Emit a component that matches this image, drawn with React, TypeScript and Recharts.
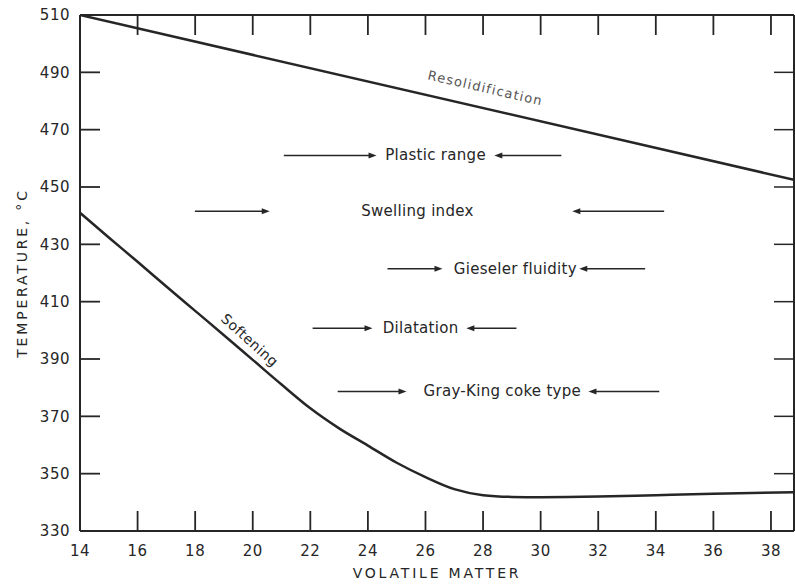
import React from "react";
import {
  LineChart,
  Line,
  XAxis,
  YAxis,
  ReferenceLine,
  ReferenceDot,
} from "recharts";

// volatile matter (%) vs temperature (°C)
const softeningX = [14, 15, 16, 17, 18, 19, 20, 21, 22, 23, 24, 25, 26, 27, 28, 29, 30, 32, 34, 36, 38.8];
const softeningY = [441, 432.4, 423.9, 415.3, 406.8, 398.3, 389.7, 381.1, 372.8, 365.8, 359.8, 353.8, 348.8, 344.6, 342.5, 341.9, 341.8, 342, 342.5, 343, 343.5];

const resolidX = [14, 38.8];
const resolidY = [510, 452.5];

const xDomain = [14, 38.8];
const yDomain = [330, 510];
const xTicks = [14, 16, 18, 20, 22, 24, 26, 28, 30, 32, 34, 36, 38];
const yTicks = [330, 350, 370, 390, 410, 430, 450, 470, 490, 510];

// property rows: label, label position, arrow from the left, arrow from the right
const rowNames = ["Plastic range", "Swelling index", "Gieseler fluidity", "Dilatation", "Gray-King coke type"];
const rowY = [461, 441.5, 421.5, 400.7, 378.7];
const rowTextX = [26.35, 25.72, 29.12, 25.83, 28.67];
const leftArrowFrom = [21.08, 17.99, 24.68, 22.08, 22.95];
const leftArrowTo = [24.3, 20.59, 26.59, 24.16, 25.34];
const rightArrowFrom = [30.72, 34.29, 33.63, 29.16, 34.12];
const rightArrowTo = [28.39, 31.1, 31.34, 27.42, 31.66];

const curveLabels = [
  { text: "Resolidification", x: 28.08, y: 484.5, angle: 13 },
  { text: "Softening", x: 19.9, y: 396.6, angle: 42 },
];

const FONT = "'DejaVu Sans', sans-serif";
const INK = "#262626";
const TICK_LEN = 20;

const softening = softeningX.map((x, i) => ({ x, y: softeningY[i] }));
const resolid = resolidX.map((x, i) => ({ x, y: resolidY[i] }));

const Arrow = (props: any) => {
  const x1 = Number(props.x1);
  const y1 = Number(props.y1);
  const x2 = Number(props.x2);
  const y2 = Number(props.y2);
  const dir = x2 > x1 ? 1 : -1;
  const len = 8;
  return (
    <g>
      <line x1={x1} y1={y1} x2={x2 - dir * 4} y2={y2} stroke={INK} strokeWidth={1.5} />
      <polygon
        points={`${x2},${y2} ${x2 - dir * len},${y2 - 3} ${x2 - dir * len},${y2 + 3}`}
        fill={INK}
      />
    </g>
  );
};

// short inward tick marks at both ends of a grid line
const TickMarks = (props: any) => {
  const x1 = Number(props.x1);
  const y1 = Number(props.y1);
  const x2 = Number(props.x2);
  const y2 = Number(props.y2);
  if (Math.abs(x1 - x2) < 0.5) {
    const top = Math.min(y1, y2);
    const bottom = Math.max(y1, y2);
    return (
      <g>
        <line x1={x1} y1={top} x2={x1} y2={top + TICK_LEN} stroke={INK} strokeWidth={1.8} />
        <line x1={x1} y1={bottom} x2={x1} y2={bottom - TICK_LEN} stroke={INK} strokeWidth={1.8} />
      </g>
    );
  }
  const left = Math.min(x1, x2);
  const right = Math.max(x1, x2);
  return (
    <g>
      <line x1={left} y1={y1} x2={left + TICK_LEN} y2={y1} stroke={INK} strokeWidth={1.8} />
      <line x1={right} y1={y1} x2={right - TICK_LEN} y2={y1} stroke={INK} strokeWidth={1.5} />
    </g>
  );
};

const textShape = (text: string, angle = 0, size = 15, spacing = 0.3, color = INK) =>
  (props: any) => (
    <text
      x={props.cx}
      y={props.cy}
      textAnchor="middle"
      dominantBaseline="central"
      transform={angle ? `rotate(${angle}, ${props.cx}, ${props.cy})` : undefined}
      fontFamily={FONT}
      fontSize={size}
      letterSpacing={spacing}
      fill={color}
    >
      {text}
    </text>
  );

const tickStyle = { fill: INK, fontFamily: FONT, fontSize: 15, letterSpacing: 0.5 };

const yTitle = (props: any) => {
  const vb = props.viewBox;
  const cy = vb.y + vb.height / 2;
  return (
    <text
      x={22}
      y={cy}
      transform={`rotate(-90, 22, ${cy})`}
      textAnchor="middle"
      dominantBaseline="central"
      fontFamily={FONT}
      fontSize={14}
      letterSpacing={2.8}
      fill={INK}
    >
      TEMPERATURE, °C
    </text>
  );
};

const xTitle = (props: any) => {
  const vb = props.viewBox;
  return (
    <text
      x={vb.x + vb.width / 2}
      y={573}
      textAnchor="middle"
      dominantBaseline="central"
      fontFamily={FONT}
      fontSize={14}
      letterSpacing={2.8}
      fill={INK}
    >
      VOLATILE MATTER
    </text>
  );
};

const axisStroke = { stroke: INK, strokeWidth: 2 };

export default function App() {
  return (
    <div style={{ position: "absolute", left: 0, top: 0, width: 795, height: 588, background: "#fff" }}>
      <LineChart width={795} height={588} margin={{ top: 15, right: 1, bottom: 0, left: 0 }}>
        <XAxis
          type="number"
          dataKey="x"
          domain={xDomain}
          ticks={xTicks}
          allowDataOverflow
          height={57}
          tickSize={0}
          tickMargin={14}
          tickLine={false}
          tick={tickStyle}
          axisLine={axisStroke}
          label={{ value: "VOLATILE MATTER", content: xTitle }}
        />
        <YAxis
          type="number"
          domain={yDomain}
          ticks={yTicks}
          allowDataOverflow
          width={80}
          tickSize={0}
          tickMargin={10}
          tickLine={false}
          tick={tickStyle}
          axisLine={axisStroke}
          label={{ value: "TEMPERATURE, °C", content: yTitle }}
        />
        {/* frame: top and right borders */}
        <ReferenceLine y={yDomain[1]} stroke={INK} strokeWidth={2} />
        <ReferenceLine x={xDomain[1]} stroke={INK} strokeWidth={2} />
        {xTicks.map((t) => (
          <ReferenceLine key={"xt" + t} x={t} shape={TickMarks} />
        ))}
        {yTicks.map((t) => (
          <ReferenceLine key={"yt" + t} y={t} shape={TickMarks} />
        ))}
        <Line
          data={resolid}
          dataKey="y"
          type="linear"
          stroke={INK}
          strokeWidth={2.5}
          dot={false}
          isAnimationActive={false}
        />
        <Line
          data={softening}
          dataKey="y"
          type="monotone"
          stroke={INK}
          strokeWidth={2.5}
          dot={false}
          isAnimationActive={false}
        />
        {rowNames.map((name, i) => (
          <ReferenceLine
            key={"l" + name}
            segment={[
              { x: leftArrowFrom[i], y: rowY[i] },
              { x: leftArrowTo[i], y: rowY[i] },
            ]}
            shape={Arrow}
          />
        ))}
        {rowNames.map((name, i) => (
          <ReferenceLine
            key={"r" + name}
            segment={[
              { x: rightArrowFrom[i], y: rowY[i] },
              { x: rightArrowTo[i], y: rowY[i] },
            ]}
            shape={Arrow}
          />
        ))}
        {rowNames.map((name, i) => (
          <ReferenceDot
            key={"t" + name}
            x={rowTextX[i]}
            y={rowY[i]}
            r={0}
            shape={textShape(name)}
          />
        ))}
        {curveLabels.map((c) => (
          <ReferenceDot
            key={c.text}
            x={c.x}
            y={c.y}
            r={0}
            shape={
              c.text === "Softening"
                ? textShape(c.text, c.angle, 14, 0.5)
                : textShape(c.text, c.angle, 13, 1.2, "#555")
            }
          />
        ))}
      </LineChart>
    </div>
  );
}
